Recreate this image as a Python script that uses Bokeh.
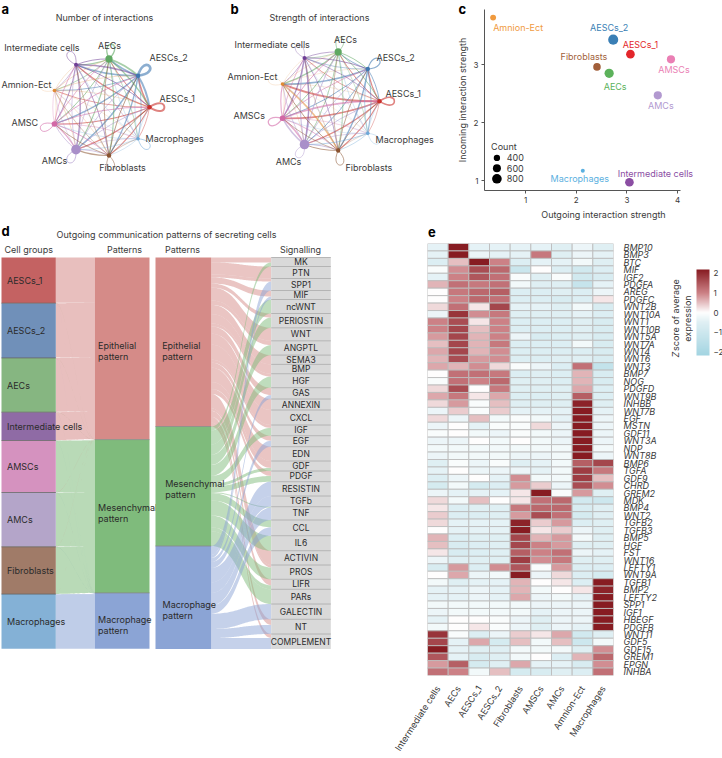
import numpy as np
from bokeh.plotting import figure
from bokeh.layouts import column, row
from bokeh.embed import file_html
from bokeh.resources import INLINE
from bokeh.core.properties import value
from bokeh.models import (ColumnDataSource, LinearColorMapper, ColorBar, FixedTicker,
                          LinearAxis, Range1d)

FONT = "Inter"
INK = "#3a3a3a"

# ---------- panels a, b ----------
NODES = ["AESCs_1", "AESCs_2", "AECs", "Intermediate cells", "Amnion-Ect", "AMSCs", "AMCs", "Fibroblasts", "Macrophages"]
NODE_COL = ["#c9302c", "#3f78b0", "#5fa862", "#6f3f96", "#e08a35", "#d268a6", "#a98fc9", "#8a5330", "#6ea8d8"]
NODE_ANGLE_DEG = [0, 40, 80, 120, 160, 200, 240, 280, 320]

COUNT_W = [
    [2.0, 1.6, 1.0, 1.2, 0.8, 1.1, 1.2, 1.1, 0.7],
    [2.0, 2.6, 1.6, 1.4, 0.9, 1.4, 1.5, 1.3, 0.8],
    [1.4, 1.8, 1.4, 1.1, 0.8, 1.0, 1.1, 1.1, 0.7],
    [1.0, 1.6, 1.0, 0.8, 0.6, 1.0, 1.3, 0.9, 0.5],
    [0.4, 0.5, 0.5, 0.4, 0.3, 0.4, 0.5, 0.4, 0.3],
    [1.0, 1.0, 0.9, 0.9, 0.5, 1.0, 1.2, 1.0, 0.6],
    [0.9, 0.9, 0.8, 0.8, 0.5, 0.9, 1.0, 0.9, 0.6],
    [1.0, 1.0, 0.9, 0.7, 0.6, 0.9, 1.1, 0.8, 0.6],
    [0.5, 0.6, 0.5, 0.5, 0.3, 0.5, 0.6, 0.5, 0.9],
]
COUNT_NODE_R = [2.2, 2.2, 3.6, 2.0, 1.8, 2.8, 4.8, 2.2, 1.8]

STRENGTH_W = [
    [1.6, 1.2, 1.0, 0.8, 2.0, 1.6, 1.2, 1.2, 0.6],
    [1.0, 1.2, 1.0, 0.7, 1.6, 1.0, 1.0, 1.4, 0.9],
    [1.0, 1.0, 0.8, 0.7, 1.4, 1.0, 0.9, 0.9, 0.6],
    [0.8, 1.0, 0.8, 0.5, 0.7, 1.3, 1.5, 0.8, 0.3],
    [0.3, 0.3, 0.4, 0.3, 0.3, 0.4, 0.4, 1.6, 0.2],
    [1.8, 0.9, 1.0, 0.8, 1.1, 1.3, 1.5, 0.9, 0.5],
    [0.9, 0.9, 1.0, 1.2, 0.8, 1.6, 0.7, 1.0, 0.7],
    [0.8, 0.9, 0.7, 0.5, 1.0, 0.8, 1.0, 0.9, 0.4],
    [0.5, 0.9, 0.5, 0.3, 0.3, 0.4, 0.9, 0.7, 0.5],
]
STRENGTH_NODE_R = [2.2, 2.2, 3.6, 2.0, 1.8, 2.8, 4.8, 2.2, 1.8]

COUNT_LABELS = ["AESCs_1", "AESCs_2", "AECs", "Intermediate cells", "Amnion-Ect", "AMSC", "AMCs", "Fibroblasts", "Macrophages"]
COUNT_LABEL_X = [159, 149, 109, 3.7, 1, 11, 54, 122, 145]
COUNT_LABEL_Y = [98, 57, 45, 46.5, 84, 122, 160, 167, 138]
COUNT_LABEL_AL = ["left", "left", "center", "left", "left", "left", "center", "center", "left"]

STRENGTH_LABELS = NODES
STRENGTH_LABEL_X = [160, 151, 120, 9, 2, 8, 63, 120, 150]
STRENGTH_LABEL_Y = [93, 57, 39, 44, 76, 115, 161, 167, 139]
STRENGTH_LABEL_AL = ["left", "left", "center", "left", "left", "left", "center", "left", "left"]


def txt(p, x, y, t, size="9px", color=INK, align="left", baseline="middle", style="normal", angle=0):
    p.text(x=[x], y=[y], text=[t], text_font=value(FONT), text_font_size=value(size),
           text_color=color, text_align=align, text_baseline=baseline, text_font_style=style, angle=angle)


def circle_panel(w, h, cx, cy, R, W, node_r, labels, lx, ly, la, title, title_x):
    p = figure(width=w, height=h, x_range=Range1d(0, w), y_range=Range1d(h, 0), toolbar_location=None,
               output_backend="svg", min_border=0, outline_line_color=None, frame_align=False)
    p.axis.visible = False
    p.grid.visible = False
    ang = np.radians(NODE_ANGLE_DEG)
    nx, ny = cx + R * np.cos(ang), cy - R * np.sin(ang)
    W = np.array(W)
    x0, y0, x1, y1, qx, qy, col, wid = [], [], [], [], [], [], [], []
    for i in range(9):
        for j in range(9):
            if i == j:
                continue
            dx, dy = nx[j] - nx[i], ny[j] - ny[i]
            x0.append(nx[i]); y0.append(ny[i]); x1.append(nx[j]); y1.append(ny[j])
            qx.append((nx[i] + nx[j]) / 2 + 0.1 * dy)
            qy.append((ny[i] + ny[j]) / 2 - 0.1 * dx)
            col.append(NODE_COL[i]); wid.append(W[i, j])
    p.quadratic(x0=x0, y0=y0, x1=x1, y1=y1, cx=qx, cy=qy, line_color=col, line_width=wid, line_alpha=0.55)
    L = 24
    c0x = nx + L * np.cos(ang - 0.6); c0y = ny - L * np.sin(ang - 0.6)
    c1x = nx + L * np.cos(ang + 0.6); c1y = ny - L * np.sin(ang + 0.6)
    p.bezier(x0=nx, y0=ny, x1=nx, y1=ny, cx0=c0x, cy0=c0y, cx1=c1x, cy1=c1y,
             line_color=NODE_COL, line_width=[W[i, i] for i in range(9)], line_alpha=0.6)
    p.scatter(x=nx, y=ny, size=[2 * r for r in node_r], fill_color=NODE_COL, line_color=None)
    for t, x, y, a in zip(labels, lx, ly, la):
        txt(p, x, y, t, size="9px", align=a)
    txt(p, title_x, 17, title, size="9px", align="center")
    return p


pa = circle_panel(225, 222, 100, 106.7, 49, COUNT_W, COUNT_NODE_R, COUNT_LABELS, COUNT_LABEL_X, COUNT_LABEL_Y,
                  COUNT_LABEL_AL, "Number of interactions", 104)
pb = circle_panel(225, 222, 104, 100.7, 50, STRENGTH_W, STRENGTH_NODE_R, STRENGTH_LABELS, STRENGTH_LABEL_X,
                  STRENGTH_LABEL_Y, STRENGTH_LABEL_AL, "Strength of interactions", 94)

# ---------- panel c ----------
SC_NAMES = ["Amnion-Ect", "AESCs_2", "AESCs_1", "AMSCs", "Fibroblasts", "AECs", "AMCs", "Macrophages", "Intermediate cells"]
SC_OUT = [0.36, 2.73, 3.07, 3.87, 2.41, 2.65, 3.61, 2.13, 3.05]
SC_IN = [3.81, 3.43, 3.18, 3.09, 2.96, 2.85, 2.47, 1.17, 0.97]
SC_COUNT = [350, 850, 680, 620, 550, 750, 620, 120, 680]
SC_COL = ["#f09a3e", "#3a7fb5", "#e3262b", "#ea7fb4", "#a25f3a", "#5cb25b", "#b299d0", "#5bb0e0", "#8b4ea3"]
SC_DX = [25, -4, 10, 3, -13, 6, 3, -3, 26]
SC_DY = [10, -12, -10, 10, -10, 13, 10, 8, -9]
LEG_COUNT = [400, 600, 800]

pc = figure(width=272, height=222, x_range=Range1d(0.19, 4.887), y_range=Range1d(0.828, 3.95), toolbar_location=None,
            output_backend="svg", min_border_left=34, min_border_right=0, min_border_top=9, min_border_bottom=31,
            outline_line_color=None, frame_align=False)
pc.grid.visible = False
for ax_, ticks, lab in ((pc.xaxis, [1, 2, 3, 4], "Outgoing interaction strength"),
                        (pc.yaxis, [1, 2, 3], "Incoming interaction strength")):
    ax_.ticker = FixedTicker(ticks=ticks)
    ax_.axis_label = lab
    ax_.axis_label_text_font = FONT
    ax_.axis_label_text_font_size = "9px"
    ax_.axis_label_text_font_style = "normal"
    ax_.axis_label_text_color = INK
    ax_.axis_label_standoff = 3
    ax_.major_label_text_font = FONT
    ax_.major_label_text_font_size = "8px"
    ax_.major_label_text_color = INK
    ax_.major_label_standoff = 3
    ax_.major_tick_out = 3
    ax_.major_tick_in = 0
    ax_.minor_tick_line_color = None
    ax_.axis_line_color = "#555555"
    ax_.major_tick_line_color = "#555555"
pc.xaxis.bounds = (0.19, 4.057)
sizes = [3 + c * 0.0083 for c in SC_COUNT]
src = ColumnDataSource(dict(x=SC_OUT, y=SC_IN, s=sizes, c=SC_COL, t=SC_NAMES, dx=SC_DX, dy=SC_DY))
pc.scatter("x", "y", size="s", fill_color="c", line_color=None, source=src)
pc.text("x", "y", text="t", x_offset="dx", y_offset="dy", text_color="c", text_align="center", text_baseline="middle",
        text_font=value(FONT), text_font_size=value("9px"), source=src)
leg_y = [1.39, 1.21, 1.03]
pc.scatter([0.435] * 3, leg_y, size=[3 + c * 0.0083 for c in LEG_COUNT], fill_color="#000000", line_color=None)
pc.text([0.63] * 3, leg_y, text=[str(c) for c in LEG_COUNT], text_font=value(FONT), text_font_size=value("9px"),
        text_color=INK, text_baseline="middle")
pc.text([0.32], [1.58], text=["Count"], text_font=value(FONT), text_font_size=value("9px"), text_color=INK,
        text_baseline="middle")

# ---------- panel d ----------
GROUPS = ["AESCs_1", "AESCs_2", "AECs", "Intermediate cells", "AMSCs", "AMCs", "Fibroblasts", "Macrophages"]
GROUP_COL = ["#c46262", "#7090b9", "#86b681", "#8f6ba5", "#d592bf", "#b4a5c9", "#a07b68", "#84b1d6"]
PATTERNS = ["Epithelial", "Mesenchymal", "Macrophage"]
PATTERN_COL = ["#d58b88", "#7fbb7c", "#8ba4d5"]
GROUP_FLOW = [
    [45.3, 0.2, 0.2], [54.3, 0.2, 0.2], [53.9, 0.2, 0.2], [27.9, 0.2, 0.2],
    [0.2, 51.6, 0.2], [0.2, 53.9, 0.2], [0.2, 46.9, 0.2], [0.1, 0.1, 54.5],
]
SIGNALS = ["MK", "PTN", "SPP1", "MIF", "ncWNT", "PERIOSTIN", "WNT", "ANGPTL", "SEMA3", "BMP", "HGF", "GAS", "ANNEXIN",
           "CXCL", "IGF", "EGF", "EDN", "GDF", "PDGF", "RESISTIN", "TGFb", "TNF", "CCL", "IL6", "ACTIVIN", "PROS",
           "LIFR", "PARs", "GALECTIN", "NT", "COMPLEMENT"]
EPI = [5, 12, 3, 6, 0, 4, 13, 4.3, 9.3, 9.3, 3, 7.3, 11, 15, 3, 5, 14.3, 7, 5, 0, 0, 0, 0, 0, 14.3, 2.5, 6, 0, 0, 5.7, 4]
MES = [4, 0, 0, 0, 14, 10.3, 0, 10, 0, 0, 11, 0, 0, 0, 7.7, 0, 0, 3, 5.7, 0, 0, 1, 7.3, 15, 0, 11.8, 4, 14.7, 0, 0, 0]
MAC = [0, 0, 9, 3, 0, 0, 0, 0, 0, 0, 0, 4, 0, 0, 0, 6, 0, 0, 0, 14.3, 10.7, 12.3, 8.4, 0, 0, 0, 0, 0, 15.3, 9, 11]

TOP = 35  # header space above the river, in the figure's own units
pd_ = figure(width=380, height=536, x_range=Range1d(0, 380), y_range=Range1d(536 - TOP, -TOP), toolbar_location=None,
             output_backend="svg", min_border=0, outline_line_color=None, frame_align=False)
pd_.axis.visible = False
pd_.grid.visible = False

t = np.linspace(0, 1, 40)
sig = 3 * t ** 2 - 2 * t ** 3

# left river: groups on left, patterns on right, coloured by pattern
gf = np.array(GROUP_FLOW)
lc = np.concatenate([[0], np.cumsum(gf.sum(axis=1))])
rc = np.concatenate([[0], np.cumsum(gf.sum(axis=0))])
xa, xb = 55.3, 94.3
bx = xa + (xb - xa) * t
xs, ys, cs = [], [], []
lpos = lc[:-1].copy()
for i in range(gf.shape[0]):
    for j in range(gf.shape[1]):
        v = gf[i, j]
        y0 = lpos[i]
        y1 = rc[j] + gf[:i, j].sum()
        top = y0 + (y1 - y0) * sig
        xs.append(np.concatenate([bx, bx[::-1]]))
        ys.append(np.concatenate([top, (top + v)[::-1]]))
        cs.append(PATTERN_COL[j])
        lpos[i] += v
pd_.patches(xs, ys, fill_color=cs, fill_alpha=0.55, line_color=None)
pd_.quad(left=1, right=55.3, top=lc[:-1], bottom=lc[1:], fill_color=GROUP_COL, line_color=None)
pd_.segment(x0=1, x1=55.3, y0=lc[1:-1], y1=lc[1:-1], line_color="#666666", line_width=0.8)
pd_.quad(left=94.3, right=149, top=rc[:-1], bottom=rc[1:], fill_color=PATTERN_COL, line_color=None)
pd_.segment(x0=94.3, x1=149, y0=rc[1:-1], y1=rc[1:-1], line_color="#888888", line_width=0.8)
for i, name in enumerate(GROUPS):
    txt(pd_, 6.5, (lc[i] + lc[i + 1]) / 2, name, size="9px", color="#2b2b2b")
PATTERN_LEFT_Y = [88, 249.7, 362]
PATTERN_RIGHT_Y = [88, 226, 346.7]
PATTERN_RIGHT_X = [161.7, 164.7, 162]
for i, name in enumerate(PATTERNS):
    for k, s in enumerate((name, "pattern")):
        txt(pd_, 97.5, PATTERN_LEFT_Y[i] + k * 11, s, size="9px", color="#2b2b2b")

# right river: patterns on left, signals on right
sf = np.array([EPI, MES, MAC])
rl = np.concatenate([[0], np.cumsum(sf.sum(axis=1))])
rr = np.concatenate([[0], np.cumsum(sf.sum(axis=0))])
xa, xb = 210.7, 270.7
xm = (xa + xb) / 2
bx = (1 - t) ** 3 * xa + 3 * (1 - t) ** 2 * t * xm + 3 * (1 - t) * t ** 2 * xm + t ** 3 * xb
xs, ys, cs = [], [], []
lpos = rl[:-1].copy()
for i in range(3):
    for j in range(sf.shape[1]):
        v = sf[i, j]
        if v <= 0:
            continue
        y0 = lpos[i]
        y1 = rr[j] + sf[:i, j].sum()
        top = y0 + (y1 - y0) * sig
        xs.append(np.concatenate([bx, bx[::-1]]))
        ys.append(np.concatenate([top, (top + v)[::-1]]))
        cs.append(PATTERN_COL[i])
        lpos[i] += v
pd_.patches(xs, ys, fill_color=cs, fill_alpha=0.5, line_color=None)
pd_.quad(left=155, right=210.7, top=rl[:-1], bottom=rl[1:], fill_color=PATTERN_COL, line_color=None)
pd_.segment(x0=155, x1=210.7, y0=rl[1:-1], y1=rl[1:-1], line_color="#888888", line_width=0.8)
pd_.quad(left=270.7, right=330.3, top=rr[:-1], bottom=rr[1:], fill_color="#d9d9d9", line_color=None)
pd_.segment(x0=270.7, x1=330.3, y0=rr[:-1], y1=rr[:-1], line_color="#a8a8a8", line_width=0.8)
for i, name in enumerate(PATTERNS):
    for k, s in enumerate((name, "pattern")):
        txt(pd_, PATTERN_RIGHT_X[i], PATTERN_RIGHT_Y[i] + k * 11, s, size="9px", color="#2b2b2b")
for j, name in enumerate(SIGNALS):
    txt(pd_, 300.5, (rr[j] + rr[j + 1]) / 2, name, size="8.5px", color="#2b2b2b", align="center")
txt(pd_, 4, -8, "Cell groups", size="9px")
txt(pd_, 124, -8, "Patterns", size="9px", align="center")
txt(pd_, 182, -8, "Patterns", size="9px", align="center")
txt(pd_, 300, -8, "Signalling", size="9px", align="center")
txt(pd_, 166, -23, "Outgoing communication patterns of secreting cells", size="9px", align="center")

# ---------- panel e ----------
HM_COLS = ["Intermediate cells", "AECs", "AESCs_1", "AESCs_2", "Fibroblasts", "AMSCs", "AMCs", "Amnion-Ect", "Macrophages"]
HM_GENES = ["BMP10", "BMP3", "BTC", "MIF", "IGF2", "PDGFA", "AREG", "PDGFC", "WNT2B", "WNT10A", "WNT1", "WNT10B", "WNT5A",
            "WNT7A", "WNT4", "WNT6", "WNT3", "BMP7", "NOG", "PDGFD", "WNT9B", "INHBB", "WNT7B", "EGF", "MSTN", "GDF11",
            "WNT3A", "NDP", "WNT8B", "BMP6", "TGFA", "GDF9", "CHRD", "GREM2", "MDK", "BMP4", "WNT2", "TGFB2", "TGFB3",
            "BMP5", "HGF", "FST", "WNT16", "LEFTY1", "WNT9A", "TGFB1", "BMP2", "LEFTY2", "SPP1", "IGF1", "HBEGF", "PDGFB",
            "WNT11", "GDF5", "GDF15", "GREM1", "EPGN", "INHBA"]
HM_Z = [
    [-0.4, 2.2, -0.4, -0.4, -0.4, -0.4, -0.5, -0.3, -0.5],
    [-0.4, 2.2, -0.3, -0.4, -0.4, 1.1, -0.5, -0.3, -0.4],
    [-0.6, 0.5, 2.2, 1.0, -0.6, -0.4, -0.4, -0.2, -0.5],
    [-0.1, 0.9, 1.6, 1.3, -1.1, 0.0, -0.6, -0.9, -0.6],
    [-0.4, 1.0, 1.5, 1.2, -0.1, -0.5, -0.1, -0.9, -0.7],
    [0.6, 1.2, 1.1, 1.2, -0.2, -0.5, -0.5, -1.2, -0.4],
    [0.0, 1.1, 1.3, 1.4, -0.6, -0.6, -0.5, -0.6, -0.3],
    [0.0, 1.0, 1.3, 1.2, -0.6, -0.6, -0.7, -0.6, 0.2],
    [0.3, 1.2, 0.2, 1.7, -0.4, -0.4, -0.5, -0.2, -0.7],
    [-0.3, 1.9, 0.9, 1.1, -0.5, -0.5, -0.5, -0.4, -0.6],
    [1.0, 1.6, 0.2, 1.0, -0.6, -0.6, -0.6, -0.5, -0.7],
    [1.0, 1.7, 0.5, 1.0, -0.6, -0.6, -0.6, -0.5, -0.7],
    [0.8, 1.7, 0.6, 1.0, -0.3, -0.7, -0.6, -0.5, -0.7],
    [0.5, 1.7, 0.6, 1.1, -0.6, -0.6, -0.6, -0.2, -0.7],
    [0.7, 1.7, 0.6, 0.9, -0.6, -0.6, -0.6, -0.6, -0.7],
    [0.6, 1.6, 0.8, 0.9, -0.6, -0.6, -0.5, -0.5, -0.7],
    [0.7, 0.6, 0.9, 0.3, -0.1, -0.3, -0.6, 1.2, -1.3],
    [0.0, 1.2, 1.2, 1.1, -0.6, -0.5, -0.6, 0.6, -0.7],
    [-0.1, 1.2, 1.0, 1.3, -0.5, -0.5, -0.6, 0.6, -0.7],
    [0.3, 1.6, 0.0, 1.1, -0.5, -0.5, -0.5, 0.7, -0.6],
    [0.7, 1.1, 0.2, 0.7, -0.6, -0.6, -0.5, 1.4, -0.6],
    [0.3, 0.8, -0.1, 0.5, -0.5, -0.5, -0.5, 2.1, -0.5],
    [-0.3, 0.4, -0.1, 0.4, -0.4, -0.4, -0.4, 2.2, -0.4],
    [0.3, -0.3, 0.5, -0.2, -0.1, -0.2, -0.4, 2.2, -0.3],
    [-0.3, 0.0, -0.4, -0.1, -0.1, 0.3, -0.3, 2.2, -0.3],
    [-0.1, 0.0, -0.2, -0.3, -0.1, -0.2, -0.3, 2.2, -0.3],
    [-0.3, -0.3, 0.0, -0.2, 0.0, -0.2, -0.3, 2.2, -0.3],
    [-0.2, -0.2, -0.2, -0.2, -0.2, -0.2, -0.2, 2.2, -0.2],
    [-0.3, -0.2, -0.2, -0.2, -0.3, -0.3, -0.2, 2.2, -0.3],
    [-0.5, -0.1, -0.3, -0.1, -0.5, -0.4, -0.2, 1.4, 1.7],
    [-0.4, 0.0, -0.3, -0.3, -0.3, -0.4, -0.2, 1.8, 1.1],
    [-0.6, -0.3, 0.0, -0.4, 0.9, -0.2, -0.2, 1.8, 0.5],
    [-0.8, -0.2, -0.8, -0.6, 0.8, 0.4, -0.3, 1.6, 0.9],
    [-0.3, -0.4, -0.4, -0.4, 0.2, 2.2, -0.1, 0.8, -0.5],
    [0.3, -0.2, 0.5, 0.0, 0.2, 1.2, 1.3, -0.9, -1.0],
    [0.2, -0.6, -0.5, -0.5, 1.1, 1.3, 1.3, -0.7, -0.5],
    [0.4, -0.6, -0.6, -0.5, 0.8, 1.6, 1.2, -0.8, -0.5],
    [0.3, -0.4, -0.4, -0.4, 2.1, 0.4, 0.8, -0.6, -0.5],
    [0.0, -0.4, -0.4, -0.4, 2.2, 0.2, 0.4, -0.3, -0.5],
    [0.6, -0.6, -0.5, -0.5, 1.7, 0.6, 0.8, -0.2, -0.5],
    [0.5, -0.7, -0.6, -0.5, 1.7, 1.0, 0.8, -0.5, -0.5],
    [0.2, -0.7, -0.6, -0.5, 1.4, 1.0, 1.2, -0.3, -0.4],
    [-0.3, -0.5, -0.5, -0.5, 1.8, 0.9, 1.1, -0.5, -0.5],
    [-0.7, 0.8, -0.6, 0.9, 1.5, -0.1, 0.8, -0.6, -0.6],
    [0.0, 0.7, -0.3, -0.2, 2.2, -0.3, 0.3, -0.6, -0.8],
    [-0.2, -0.5, -0.4, -0.4, 0.6, 0.0, 0.2, -0.6, 2.2],
    [-0.4, -0.4, -0.3, -0.4, 0.6, -0.2, 0.0, 0.2, 2.1],
    [-0.4, -0.4, -0.3, -0.4, 0.7, -0.3, -0.2, -0.4, 2.2],
    [-0.2, -0.2, -0.2, -0.2, -0.2, -0.3, -0.3, -0.3, 2.2],
    [-0.3, -0.2, -0.2, -0.2, -0.2, -0.4, -0.3, -0.3, 2.2],
    [-0.4, 0.0, 0.0, -0.1, -0.3, -0.5, -0.3, -0.3, 2.2],
    [-0.2, 0.0, 0.2, -0.1, -0.3, -0.5, -0.3, -0.4, 2.2],
    [1.9, -0.1, -0.6, -0.3, 0.4, 0.2, 0.7, -0.9, -0.5],
    [1.7, -0.4, 0.7, -0.8, 0.5, -0.2, 0.5, -1.0, -0.2],
    [2.2, -0.4, -0.5, -0.5, -0.2, -0.2, -0.2, -0.5, 0.9],
    [1.5, -0.4, -0.7, -0.5, -0.2, 0.0, -0.6, 0.6, 1.3],
    [0.8, 1.4, -0.8, -0.5, 0.7, -0.4, -0.4, -0.7, 0.9],
    [1.2, 1.0, -0.2, 0.5, -0.8, -0.7, -0.5, -0.6, 1.2],
]
CBAR_TICKS = [-2, -1, 0, 1, 2]


def lerp_palette(stops, n=256):
    out = []
    pos = np.linspace(0, 1, n)
    xs_ = [s[0] for s in stops]
    for ch in range(3):
        out.append(np.interp(pos, xs_, [s[1][ch] for s in stops]))
    return ["#%02x%02x%02x" % (int(r), int(g), int(b)) for r, g, b in zip(*out)]


palette = lerp_palette([(0, (163, 213, 226)), (0.386, (224, 240, 244)), (0.5, (255, 255, 255)),
                        (0.727, (205, 130, 135)), (1, (135, 28, 34))])
mapper = LinearColorMapper(palette=palette, low=-2.2, high=2.2)

pe = figure(width=342, height=536, x_range=Range1d(0, 9), y_range=Range1d(58, 0), toolbar_location=None,
            output_backend="svg", min_border_left=47, min_border_right=109, min_border_top=21, min_border_bottom=72,
            outline_line_color=None, x_axis_location=None, y_axis_location=None, frame_align=False)
pe.grid.visible = False
gx, gy, gz = [], [], []
for r, vals in enumerate(HM_Z):
    for c, z in enumerate(vals):
        gx.append(c + 0.5); gy.append(r + 0.5); gz.append(z)
pe.rect(x="x", y="y", width=1, height=1, fill_color={"field": "z", "transform": mapper}, line_color="#bcbcbc", line_width=0.9,
        source=ColumnDataSource(dict(x=gx, y=gy, z=gz)))
ay = LinearAxis(ticker=FixedTicker(ticks=[i + 0.5 for i in range(58)]),
                major_label_overrides={i + 0.5: g for i, g in enumerate(HM_GENES)})
ay.major_label_text_font = FONT
ay.major_label_text_font_style = "italic"
ay.major_label_text_font_size = "9px"
ay.major_label_text_color = INK
ay.major_label_standoff = 4
ay.major_tick_line_color = None
ay.minor_tick_line_color = None
ay.axis_line_color = None
pe.add_layout(ay, "right")
ax = LinearAxis(ticker=FixedTicker(ticks=[i + 0.5 for i in range(9)]),
                major_label_overrides={i + 0.5: g for i, g in enumerate(HM_COLS)})
ax.major_label_text_font = FONT
ax.major_label_text_font_size = "9px"
ax.major_label_text_color = INK
ax.major_label_orientation = 1.0
ax.major_label_standoff = 5
ax.major_tick_line_color = None
ax.minor_tick_line_color = None
ax.axis_line_color = None
pe.add_layout(ax, "below")
cb = ColorBar(color_mapper=mapper, ticker=FixedTicker(ticks=CBAR_TICKS), location=(269, 320), width=13, height=86,
              padding=0, margin=0, major_tick_line_color=None, minor_tick_line_color=None, bar_line_color=None,
              background_fill_alpha=0, border_line_color=None, label_standoff=4,
              major_label_text_font=FONT, major_label_text_font_size="8px", major_label_text_color=INK)
pe.add_layout(cb, "center")

# ---------- text that sits over the panels: tags and the colour bar's title ----------
TAGS = ["a", "b", "c", "d", "e"]
TAG_X = [1, 230, 458, 1, 427.5]
TAG_Y = [8, 8, 8, 230, 231]
over = figure(width=722, height=758, x_range=Range1d(0, 722), y_range=Range1d(758, 0), toolbar_location=None,
              output_backend="svg", min_border=0, outline_line_color=None, background_fill_color=None,
              border_fill_color=None, frame_align=False)
over.axis.visible = False
over.grid.visible = False
over.text(x=TAG_X, y=TAG_Y, text=TAGS, text_font=value(FONT), text_font_size=value("13px"), text_font_style="bold",
          text_color="#000000", text_baseline="middle")
txt(over, 675, 357, "Z", style="italic", angle=np.pi / 2)
txt(over, 675, 350.5, "score of average", angle=np.pi / 2)
txt(over, 687, 318, "expression", align="center", angle=np.pi / 2)
over.styles = {"position": "absolute", "left": "0px", "top": "0px"}

page = column(row(pa, pb, pc, spacing=0), row(pd_, pe, spacing=0), over, spacing=0)
page.styles = {"position": "absolute", "left": "0px", "top": "0px"}
open("out.html", "w").write(file_html(page, INLINE))
